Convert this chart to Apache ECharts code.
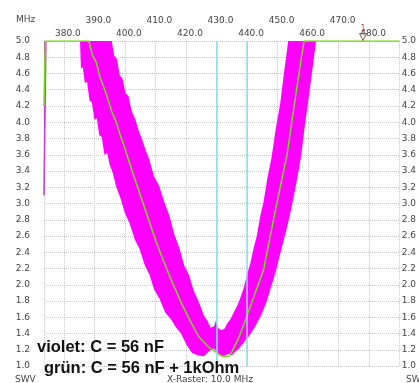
<!DOCTYPE html>
<html>
<head>
<meta charset="utf-8">
<script src="https://cdn.jsdelivr.net/npm/echarts@6/dist/echarts.min.js"></script>
<style>
html, body { margin: 0; padding: 0; background: #fff; }
#chart { width: 419px; height: 383px; }
</style>
</head>
<body>
<div id="chart"></div>
<script>
// grün: C = 56 nF + 1kOhm  (Frequenz in MHz / SWV, oberhalb 5.0 abgeschnitten)
var gruenFreq = [373.5, 373.9, 388.2, 389.4, 390.6, 391.8, 393.0, 394.3, 395.7, 397.0, 398.3, 399.6, 402.8, 406.7,
  410.6, 414.5, 418.4, 421.6, 424.2, 427.5, 429.8, 431.7, 434.0, 435.0, 437.2, 439.5, 442.1, 445.4, 449.2, 453.1,
  455.7, 457.7, 458.7, 490];
var gruenSwv = [4.2, 5.0, 5.0, 4.82, 4.74, 4.56, 4.44, 4.30, 4.13, 4.02, 3.86, 3.72, 3.35, 2.92,
  2.49, 2.12, 1.78, 1.54, 1.36, 1.23, 1.17, 1.12, 1.12, 1.17, 1.34, 1.57, 1.84, 2.18, 2.90, 3.60,
  4.27, 4.77, 5.0, 5.0];

// violet: C = 56 nF  (stark verrauscht -> untere und obere Kante des Bandes)
var violettUntenFreq = [373.5, 374.1, 385.3, 385.6, 386.2, 386.9, 387.6, 388.4, 389.2, 390.0, 390.8, 391.6, 392.4,
  393.3, 394.2, 395.0, 396.0, 397.2, 398.6, 400.0, 401.5, 403.2, 404.8, 406.5, 408.0, 409.6, 411.3, 413.2, 415.2,
  416.8, 418.4, 420.2, 422.0, 424.0, 425.9, 427.5, 429.1, 430.8, 432.4, 434.0, 435.0, 436.2, 437.2, 438.8, 440.5,
  442.6, 444.7, 446.2, 447.6, 449.4, 451.2, 452.8, 454.4, 456.0, 457.7, 458.8, 460.0, 461.3, 462.6, 490];
var violettUnten = [3.10, 5.0, 5.0, 4.66, 4.68, 4.48, 4.50, 4.27, 4.24, 4.03, 4.05, 3.84, 3.82,
  3.60, 3.62, 3.48, 3.38, 3.20, 3.06, 2.88, 2.76, 2.56, 2.44, 2.24, 2.13, 1.94, 1.83, 1.66, 1.57,
  1.47, 1.40, 1.26, 1.16, 1.13, 1.12, 1.18, 1.22, 1.14, 1.12, 1.15, 1.13, 1.18, 1.21, 1.28, 1.36,
  1.48, 1.63, 1.77, 1.94, 2.16, 2.43, 2.66, 2.92, 3.22, 3.58, 3.92, 4.25, 4.62, 5.0, 5.0];
var violettObenFreq = [373.5, 395.7, 396.5, 397.4, 398.3, 399.2, 400.2, 401.2, 402.2, 403.4, 404.5, 405.7, 406.8,
  408.0, 409.5, 411.2, 412.9, 414.5, 416.2, 417.8, 419.4, 421.0, 422.6, 424.2, 425.9, 427.0, 428.1, 429.2, 429.8,
  430.5, 431.4, 432.6, 433.6, 434.6, 435.8, 437.0, 437.9, 439.0, 440.0, 441.0, 442.1, 443.2, 444.3, 445.4, 446.7,
  448.0, 449.4, 450.9, 452.2, 453.5, 490];
var violettOben = [5.0, 5.0, 4.82, 4.78, 4.58, 4.54, 4.36, 4.32, 4.14, 4.04, 3.90, 3.78, 3.66,
  3.54, 3.34, 3.22, 3.02, 2.86, 2.62, 2.46, 2.24, 2.12, 1.92, 1.79, 1.62, 1.56, 1.47, 1.49, 1.56,
  1.47, 1.44, 1.46, 1.53, 1.58, 1.67, 1.76, 1.85, 1.97, 2.13, 2.25, 2.44, 2.60, 2.84, 3.02, 3.32,
  3.56, 3.92, 4.24, 4.64, 5.0, 5.0];

var bandGrenzen = [430, 440];
var marker1 = [478, 5.0];
var xLabelsOben = [390, 410, 430, 450, 470];
var xLabelsUnten = [380, 400, 420, 440, 460, 480];

function paare(xs, ys) {
  return xs.map(function (x, i) { return [x, ys[i]]; });
}
function zeigeLabel(liste) {
  return function (v) {
    var r = Math.round(v);
    if (Math.abs(v - r) < 1e-6 && liste.indexOf(r) >= 0) return r.toFixed(1);
    return '';
  };
}

var myChart = echarts.init(document.getElementById('chart'));
var labelFont = { fontFamily: 'DejaVu Sans', fontSize: 9, color: '#444' };

var option = {
  animation: false,
  grid: { left: 44, right: 16, top: 41, bottom: 17 },
  xAxis: [
    {
      type: 'value', position: 'top', min: 373.5, max: 490, splitNumber: 12,
      axisLine: { show: false }, axisTick: { show: false },
      axisLabel: Object.assign({ margin: 3, padding: [0, 0, 0, 8], formatter: zeigeLabel(xLabelsUnten) }, labelFont),
      splitLine: { show: true, lineStyle: { color: '#c8c8c8', type: 'dotted', width: 1 } }
    },
    {
      type: 'value', position: 'top', min: 373.5, max: 490, splitNumber: 12,
      axisLine: { show: false }, axisTick: { show: false },
      axisLabel: Object.assign({ margin: 16, padding: [0, 0, 0, 8], formatter: zeigeLabel(xLabelsOben) }, labelFont),
      splitLine: { show: false }
    }
  ],
  yAxis: [
    {
      type: 'value', position: 'left', min: 1, max: 5, interval: 0.2,
      axisLine: { show: false }, axisTick: { show: false },
      axisLabel: Object.assign({ margin: 14, formatter: function (v) { return v.toFixed(1); } }, labelFont),
      splitLine: { show: true, lineStyle: { color: '#c8c8c8', type: 'dotted', width: 1 } }
    },
    {
      type: 'value', position: 'right', min: 1, max: 5, interval: 0.2,
      axisLine: { show: false }, axisTick: { show: false },
      axisLabel: Object.assign({ margin: 2, formatter: function (v) { return v.toFixed(1); } }, labelFont),
      splitLine: { show: false }
    }
  ],
  series: [
    {
      // Bandgrenzen 430 / 440 MHz
      type: 'line', data: [], z: 1, silent: true,
      markLine: {
        silent: true, symbol: 'none', animation: false,
        label: { show: false },
        lineStyle: { color: '#86e0ea', type: 'solid', width: 1.5 },
        data: bandGrenzen.map(function (f) { return { xAxis: f }; })
      }
    },
    {
      name: 'violet',
      type: 'custom', z: 2, silent: true,
      data: paare(violettUntenFreq, violettUnten),
      renderItem: function (params, api) {
        if (params.dataIndex !== 0) return null;
        var pts = [];
        violettObenFreq.forEach(function (f, i) { pts.push(api.coord([f, violettOben[i]])); });
        for (var i = violettUntenFreq.length - 1; i >= 0; i--) {
          pts.push(api.coord([violettUntenFreq[i], violettUnten[i]]));
        }
        // erster Messpunkt -> senkrechter Strich am linken Rand
        var start = [api.coord([violettUntenFreq[0], violettUnten[0]]), api.coord([violettUntenFreq[1], violettUnten[1]])];
        return {
          type: 'group',
          children: [
            { type: 'polygon', shape: { points: pts }, style: { fill: '#ff00ff' } },
            { type: 'polyline', shape: { points: start }, style: { stroke: '#c040d8', lineWidth: 1.6, fill: null } }
          ]
        };
      }
    },
    {
      name: 'grün',
      type: 'line', z: 3, symbol: 'none',
      data: paare(gruenFreq, gruenSwv),
      lineStyle: { color: '#76da1e', width: 1.5 }
    },
    {
      // Marker 1
      type: 'scatter', z: 4, data: [marker1],
      symbol: 'triangle', symbolRotate: 180, symbolSize: [7, 7], symbolOffset: [0, -4],
      itemStyle: { color: 'rgba(255,255,255,0.6)', borderColor: '#8a2c1c', borderWidth: 1 },
      label: { show: true, position: 'top', distance: 0, formatter: '1', fontFamily: 'DejaVu Sans', fontSize: 8, color: '#8a2c1c' }
    }
  ],
  graphic: [
    { type: 'text', left: 16, top: 15, style: { text: 'MHz', font: '9px DejaVu Sans', fill: '#444' } },
    { type: 'text', left: 15, top: 375, style: { text: 'SWV', font: '9px DejaVu Sans', fill: '#444' } },
    { type: 'text', left: 406, top: 375, style: { text: 'SWV', font: '9px DejaVu Sans', fill: '#444' } },
    { type: 'text', left: 167, top: 375, style: { text: 'X-Raster: 10.0 MHz', font: '9px DejaVu Sans', fill: '#444' } },
    { type: 'text', left: 37, top: 339, z: 10, style: { text: 'violet: C = 56 nF', font: 'bold 16.5px "Liberation Sans"', fill: '#111' } },
    { type: 'text', left: 44, top: 360, z: 10, style: { text: 'grün: C = 56 nF + 1kOhm', font: 'bold 16.5px "Liberation Sans"', fill: '#111' } }
  ]
};
myChart.setOption(option);
</script>
</body>
</html>
